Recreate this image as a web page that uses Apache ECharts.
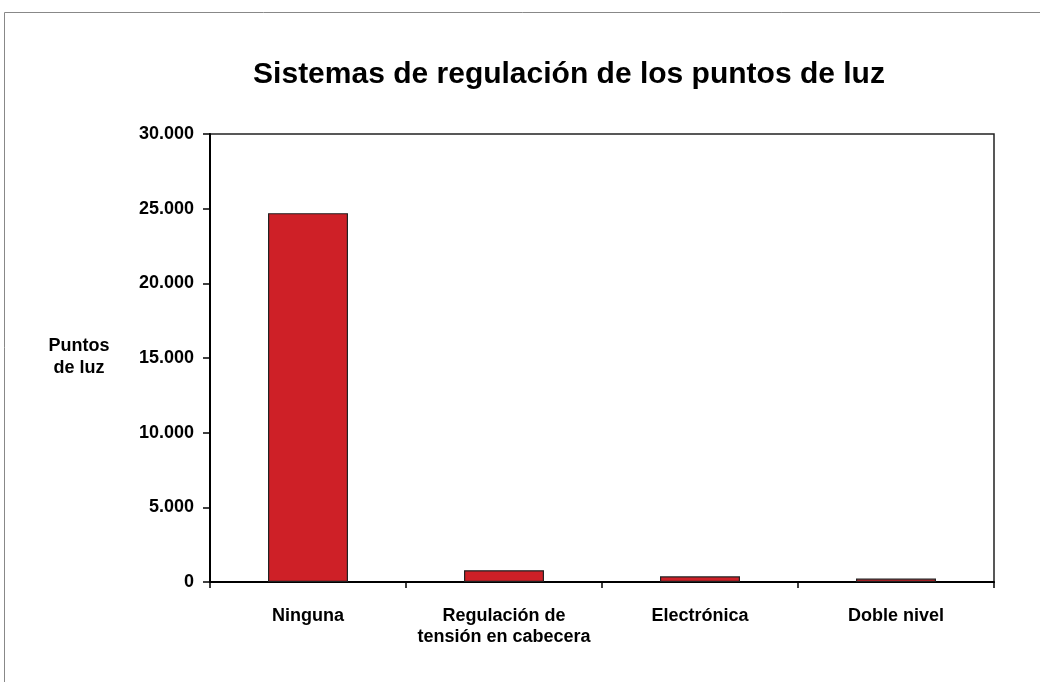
<!DOCTYPE html>
<html><head><meta charset="utf-8">
<script src="https://cdn.jsdelivr.net/npm/echarts@6/dist/echarts.min.js"></script>
<style>html,body{margin:0;padding:0;background:#fff}#c{width:1040px;height:682px}</style>
</head><body><div id="c"></div>
<script>
const categories = ['Ninguna', 'Regulación de\ntensión en cabecera', 'Electrónica', 'Doble nivel'];
const values = [24700, 790, 380, 230];
const yTicks = [0, 5000, 10000, 15000, 20000, 25000, 30000];
const yAxisName = 'Puntos\nde luz';
const titleText = 'Sistemas de regulación de los puntos de luz';

const chart = echarts.init(document.getElementById('c'));
const fmt = v => v === 0 ? '0' : String(v).replace(/\B(?=(\d{3})+(?!\d))/g, '.');
chart.setOption({
  animation: false,
  backgroundColor: '#fff',
  title: {
    text: titleText,
    left: 564, top: 55, textAlign: 'center',
    textStyle: { fontFamily: 'Liberation Sans', fontWeight: 'bold', fontSize: 30, color: '#000' }
  },
  graphic: [{
    type: 'rect', shape: { x: 4.5, y: 12.5, width: 1050, height: 700 },
    style: { fill: 'none', stroke: '#888', lineWidth: 1 }, z: -1
  }, {
    type: 'text', x: 79, y: 335,
    style: { text: yAxisName, font: 'bold 18px "Liberation Sans"', fill: '#000', align: 'center', lineHeight: 22 }
  }],
  grid: { left: 210, right: 46, top: 134, bottom: 100, show: true, borderColor: '#222', borderWidth: 1.5 },
  xAxis: {
    type: 'category', data: categories,
    axisLine: { lineStyle: { color: '#000', width: 2 } },
    axisTick: { show: true, interval: 0, length: 6, lineStyle: { color: '#000', width: 1.5 } },
    axisLabel: { interval: 0, hideOverlap: false, fontFamily: 'Liberation Sans', fontWeight: 'bold', fontSize: 18, color: '#000', margin: 24, lineHeight: 21 }
  },
  yAxis: {
    type: 'value', min: 0, max: 30000, interval: 5000,
    axisLine: { show: true, lineStyle: { color: '#000', width: 2 } },
    axisTick: { show: true, length: 7, lineStyle: { color: '#000', width: 1.5 } },
    splitLine: { show: false },
    axisLabel: { fontFamily: 'Liberation Sans', fontWeight: 'bold', fontSize: 18, color: '#000', margin: 16,
      formatter: v => yTicks.includes(v) ? fmt(v) : '' }
  },
  series: [{
    type: 'bar', data: values, barWidth: 80,
    itemStyle: { color: '#CE2027', borderColor: '#222', borderWidth: 1.2 }
  }]
});
</script></body></html>
